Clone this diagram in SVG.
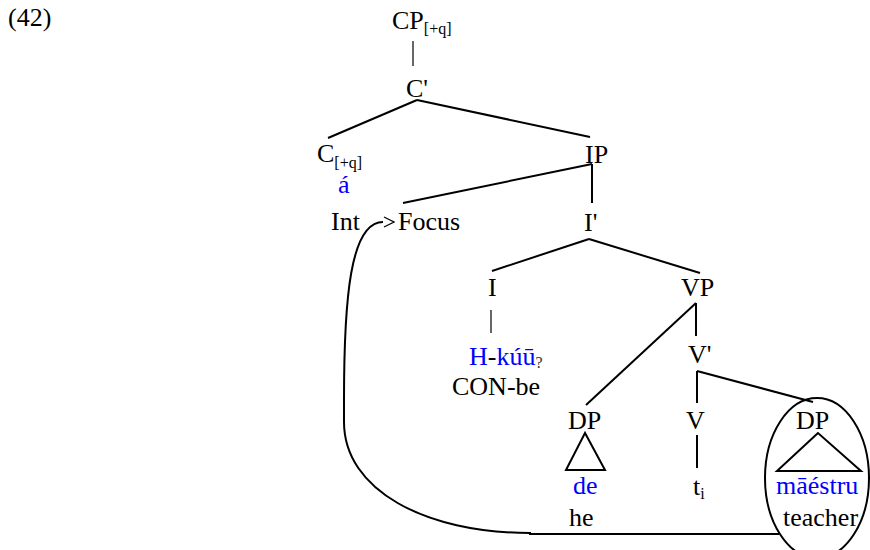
<svg xmlns="http://www.w3.org/2000/svg" width="870" height="550" viewBox="0 0 870 550">
<style>
text { font-family: "Liberation Serif", "Times New Roman", serif; font-size: 26px; fill: #000; }
.sub { font-size: 16px; }
.blue { fill: #0000ff; }
.edge { stroke: #000; stroke-width: 2; fill: none; }
.thin { stroke: #000; stroke-width: 1.2; fill: none; }
</style>
<defs>
<marker id="chev" markerUnits="userSpaceOnUse" viewBox="0 0 12 12" markerWidth="12" markerHeight="12" refX="0" refY="6" orient="auto">
<path d="M1,1 L11,6 L1,11" fill="none" stroke="#000" stroke-width="1.2"/>
</marker>
</defs>
<rect width="870" height="550" fill="#fff"/>
<g id="label"><text x="8" y="26">(42)</text></g>
<g id="connectors">
<line class="thin" x1="413" y1="41" x2="413" y2="66"/>
<line class="edge" x1="417" y1="100" x2="328" y2="138"/>
<line class="edge" x1="417" y1="100" x2="590" y2="137"/>
<line class="edge" x1="592" y1="164" x2="403" y2="203"/>
<line class="edge" x1="592" y1="164" x2="592" y2="203"/>
<line class="edge" x1="589" y1="239" x2="492" y2="271"/>
<line class="edge" x1="589" y1="239" x2="700" y2="273"/>
<line class="thin" x1="491" y1="310" x2="491" y2="333"/>
<line class="edge" x1="696" y1="303" x2="696" y2="336"/>
<line class="edge" x1="696" y1="303" x2="586" y2="405"/>
<line class="edge" x1="697" y1="371" x2="697" y2="403"/>
<line class="edge" x1="697" y1="371" x2="813" y2="402"/>
<line class="edge" x1="697" y1="435" x2="697" y2="468"/>
<path class="edge" d="M779 534 L530 534 L530 533 C425 533 344 490 344 422 L344 400 C344 300 350 222 383 222" marker-end="url(#chev)"/>
</g>
<g id="CP"><text x="392" y="29">CP<tspan class="sub" dy="5">[+q]</tspan></text></g>
<g id="Cbar"><text x="406" y="97">C'</text></g>
<g id="C"><text x="317" y="162">C<tspan class="sub" dy="6">[+q]</tspan></text><text class="blue" x="338" y="193">á</text></g>
<g id="IP"><text x="585" y="163">IP</text></g>
<g id="Int"><text x="331" y="230">Int</text></g>
<g id="Focus"><text x="398" y="230">Focus</text></g>
<g id="Ibar"><text x="584" y="231">I'</text></g>
<g id="I"><text x="488" y="296">I</text><text x="469" y="365"><tspan class="blue">H</tspan>-<tspan class="blue">kúū</tspan><tspan class="sub" dy="3" fill="#333">?</tspan></text><text x="452" y="395">CON-be</text></g>
<g id="VP"><text x="681" y="296">VP</text></g>
<g id="Vbar"><text x="688" y="363">V'</text></g>
<g id="DP1"><text x="568" y="429">DP</text><polygon class="edge" points="585,433 566,470 605,470"/><text class="blue" x="573" y="494">de</text><text x="569" y="526">he</text></g>
<g id="V"><text x="686" y="429">V</text><text x="693" y="495">t<tspan class="sub" dy="4">i</tspan></text></g>
<g id="DP2"><text x="796" y="429">DP</text><polygon class="edge" points="818,433 777,471 861,471"/><text class="blue" x="776" y="494">māéstru</text><text x="783" y="526">teacher</text><ellipse class="edge" cx="817" cy="478" rx="52" ry="80"/></g>
</svg>
